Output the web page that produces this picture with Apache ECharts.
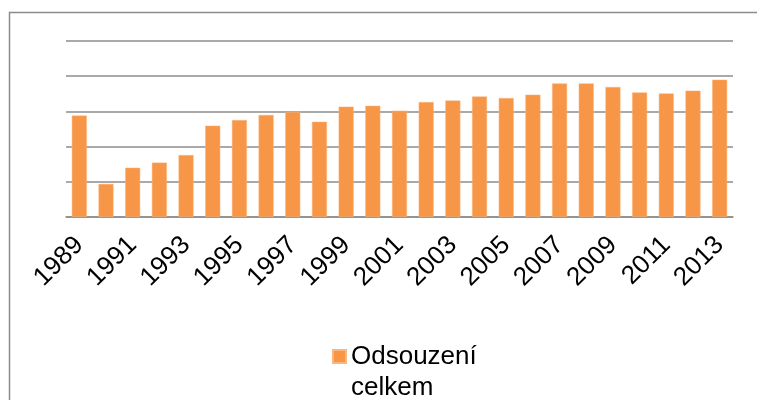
<!DOCTYPE html>
<html>
<head>
<meta charset="utf-8">
<script src="https://cdn.jsdelivr.net/npm/echarts@6/dist/echarts.min.js"></script>
<style>html,body{margin:0;padding:0;background:#fff}#c{width:757px;height:400px}</style>
</head>
<body>
<div id="c"></div>
<script>
const categories = ['1989','1990','1991','1992','1993','1994','1995','1996','1997','1998','1999','2000','2001','2002','2003','2004','2005','2006','2007','2008','2009','2010','2011','2012','2013'];
const seriesName = 'Odsouzení celkem';
const values = [57600,18800,28000,30900,35200,51900,55100,58000,59700,54100,62700,63200,60400,65300,66200,68500,67600,69500,75900,75900,73900,70800,70200,71800,78000];
const yMax = 100000;
const yInterval = 20000;

const chart = echarts.init(document.getElementById('c'), null, {renderer: 'canvas'});
const font = 'Liberation Sans, Arial, sans-serif';
chart.setOption({
  animation: false,
  backgroundColor: '#fff',
  textStyle: {fontFamily: font},
  graphic: [{
    type: 'rect', silent: true, z: -10,
    shape: {x: 9.5, y: 12.5, width: 800, height: 500},
    style: {fill: 'none', stroke: '#8c8c8c', lineWidth: 1.5}
  }],
  grid: {left: 66, right: 24, top: 41, bottom: 183, containLabel: false},
  xAxis: {
    type: 'category',
    data: categories,
    axisLine: {lineStyle: {color: '#8c8c8c', width: 1.5}},
    axisTick: {show: false},
    axisLabel: {interval: 1, rotate: 45, margin: 24, fontSize: 26, color: '#000', fontFamily: font}
  },
  yAxis: {
    type: 'value', min: 0, max: yMax, interval: yInterval,
    axisLabel: {show: false},
    axisLine: {show: false},
    axisTick: {show: false},
    splitLine: {lineStyle: {color: '#8c8c8c', width: 1.5}}
  },
  legend: {
    left: 332, top: 310, padding: 0,
    itemWidth: 13, itemHeight: 13, itemGap: 0, icon: 'rect',
    formatter: () => '\nOdsouzení\ncelkem',
    textStyle: {fontSize: 26, lineHeight: 31, color: '#000', fontFamily: font},
    data: [seriesName]
  },
  series: [{
    name: seriesName,
    type: 'bar',
    data: values,
    barWidth: 15,
    itemStyle: {color: '#F79646', borderColor: '#FAB67F', borderWidth: 0.5}
  }]
});
</script>
</body>
</html>
